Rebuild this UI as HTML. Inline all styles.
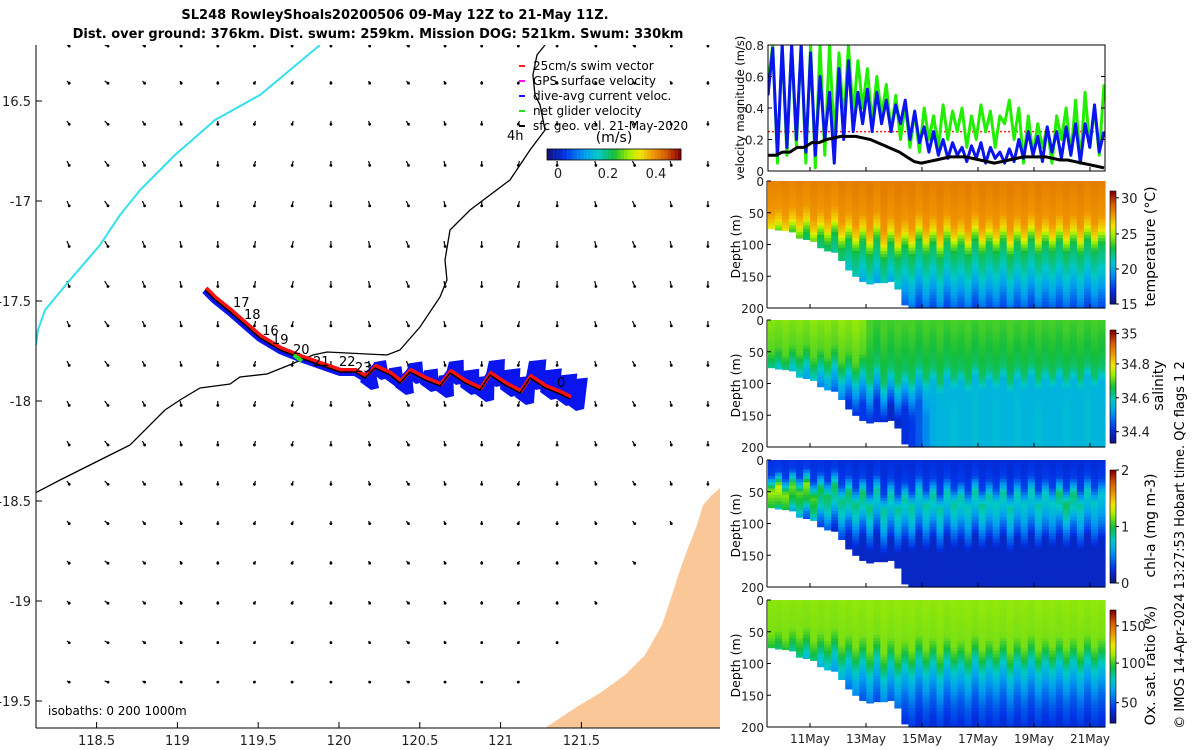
<!DOCTYPE html>
<html><head><meta charset="utf-8"><style>
html,body{margin:0;padding:0;background:#fff;}
svg{display:block;font-family:"DejaVu Sans","Liberation Sans",sans-serif;}
</style></head><body>
<svg id="fig" width="1200" height="750" viewBox="0 0 1200 750">
<defs><clipPath id="mclip"><rect x="36" y="45" width="684" height="683"/></clipPath>
<clipPath id="vclip"><rect x="768" y="45" width="337" height="126"/></clipPath></defs>
<g id="map"></g>
<g id="right"></g>
</svg>
<script>
// ---------------- DATA ----------------
const mapLonTicks=[118.5,119,119.5,120,120.5,121,121.5];
const mapLatTicks=[-16.5,-17,-17.5,-18,-18.5,-19,-19.5];
const dateTickLabels=["11May","13May","15May","17May","19May","21May"];
const dateTickDays=[1.5,3.5,5.5,7.5,9.5,11.5];
const velTicks=[0,0.2,0.4,0.6,0.8];
const depthTicks=[0,50,100,150,200];
const blueVel=[0.48,0.78,0.1,0.8,0.15,0.8,0.2,0.8,0.12,0.75,0.1,0.6,0.2,0.5,0.05,0.65,0.2,0.7,0.25,0.5,0.3,0.52,0.25,0.5,0.3,0.45,0.25,0.42,0.3,0.45,0.2,0.38,0.18,0.28,0.12,0.25,0.1,0.2,0.08,0.18,0.1,0.15,0.06,0.16,0.08,0.18,0.05,0.15,0.08,0.12,0.05,0.14,0.06,0.2,0.08,0.25,0.1,0.22,0.06,0.28,0.12,0.25,0.08,0.28,0.1,0.3,0.05,0.3,0.15,0.42,0.12,0.25];
const greenVel=[0.55,0.8,0.05,0.8,0.1,0.8,0.15,0.8,0.05,0.8,0.02,0.8,0.1,0.8,0.2,0.75,0.3,0.8,0.35,0.7,0.4,0.65,0.3,0.6,0.35,0.55,0.25,0.48,0.2,0.42,0.15,0.38,0.12,0.4,0.2,0.35,0.15,0.42,0.2,0.38,0.25,0.4,0.15,0.35,0.2,0.42,0.25,0.38,0.15,0.35,0.3,0.45,0.2,0.4,0.05,0.35,0.1,0.3,0.15,0.28,0.05,0.35,0.2,0.4,0.1,0.45,0.05,0.5,0.15,0.4,0.1,0.55];
const geoVel=[0.1,0.1,0.12,0.12,0.15,0.15,0.18,0.18,0.2,0.21,0.22,0.22,0.22,0.21,0.2,0.18,0.16,0.14,0.12,0.09,0.06,0.05,0.06,0.07,0.08,0.09,0.09,0.09,0.08,0.07,0.06,0.05,0.06,0.07,0.08,0.09,0.09,0.09,0.09,0.08,0.07,0.07,0.06,0.05,0.04,0.03,0.02];
const swimRef=0.25;
const bottomDepth=[75,77,78,80,90,92,95,105,110,112,125,140,150,158,162,160,160,158,170,195,200,200,200,200,200,200,200,200,200,200,200,200,200,200,200,200,200,200,200,200,200,200,200,200,200,200,200,200];
const mixedLayer=[70,62,75,60,72,58,80,65,78,60,85,70,90,72,95,68,100,75,98,80,95,70,92,75,98,72,90,78,95,70,92,76,90,72,96,74,90,70,92,75,88,72,90,74,92,70,88,75];
const deepSalinity=[0.3,0.3,0.28,0.25,0.2,0.18,0.15,0.1,0.1,0.12,0.1,0.08,0.08,0.1,0.1,0.08,0.06,0.05,0.06,0.08,0.1,0.15,0.22,0.28,0.3,0.3,0.32,0.3,0.3,0.32,0.3,0.3,0.32,0.3,0.3,0.32,0.3,0.3,0.32,0.3,0.3,0.3,0.32,0.3,0.3,0.32,0.3,0.3];
const chlMax=[0.62,0.66,0.6,0.58,0.55,0.6,0.55,0.5,0.48,0.48,0.45,0.48,0.45,0.47,0.45,0.42,0.43,0.42,0.43,0.42,0.43,0.4,0.42,0.43,0.42,0.4,0.43,0.42,0.4,0.42,0.43,0.42,0.4,0.42,0.42,0.4,0.38,0.4,0.42,0.4,0.38,0.46,0.48,0.46,0.42,0.4,0.38,0.37];
const coastLon=[118.12,118.274,118.521,118.707,118.923,119.016,119.14,119.326,119.387,119.554,119.678,119.839,119.926,120.297,120.377,120.501,120.625,120.668,120.656,120.687,120.811,121.058,121.182,121.275,121.244,121.213,121.2,121.225,121.275];
const coastLat=[-18.46,-18.395,-18.295,-18.22,-18.045,-17.995,-17.935,-17.915,-17.88,-17.865,-17.825,-17.77,-17.755,-17.77,-17.745,-17.63,-17.48,-17.395,-17.295,-17.145,-17.045,-16.895,-16.745,-16.645,-16.52,-16.47,-16.37,-16.27,-16.22];
const bathyLon=[118.125,118.137,118.181,118.335,118.521,118.645,118.769,118.985,119.233,119.511,119.697,119.882];
const bathyLat=[-17.72,-17.645,-17.545,-17.395,-17.22,-17.07,-16.945,-16.77,-16.595,-16.47,-16.345,-16.22];
const trackLon=[119.171,119.233,119.326,119.418,119.511,119.635,119.759,119.882,120.006,120.099,120.161,120.223,120.316,120.377,120.439,120.532,120.625,120.687,120.78,120.873,120.934,121.027,121.12,121.182,121.275,121.368,121.43];
const trackLat=[-17.445,-17.495,-17.555,-17.62,-17.685,-17.745,-17.785,-17.82,-17.855,-17.855,-17.885,-17.835,-17.87,-17.91,-17.855,-17.895,-17.925,-17.86,-17.91,-17.945,-17.87,-17.92,-17.96,-17.885,-17.935,-17.965,-17.99];
const trackDayLabels=["17","18","16","19","20","21","22","23","0"];
const trackLabelLon=[119.344,119.412,119.524,119.585,119.715,119.839,120.0,120.099,121.349];
const trackLabelLat=[-17.53,-17.59,-17.67,-17.715,-17.765,-17.825,-17.825,-17.855,-17.93];
const quiverU=[0.1,0.15,0.1,0.05,0.0,-0.05,-0.05,0.0,0.05,0.1,0.05,0.0,-0.05,0.0,0.05,0.1,0.05,0.0];
const quiverV=[-0.05,-0.1,-0.15,-0.2,-0.22,-0.25,-0.25,-0.22,-0.2,-0.2,-0.18,-0.15,-0.12,-0.1,-0.1,-0.08,-0.05];

const NS="http://www.w3.org/2000/svg";
function el(tag,attrs,parent,text){const e=document.createElementNS(NS,tag);for(const k in attrs)e.setAttribute(k,attrs[k]);if(text!==undefined)e.textContent=text;parent.appendChild(e);return e;}
const cmStops=[0,0.12,0.28,0.38,0.5,0.62,0.7,0.8,0.9,1];
const cmR=[20,0,0,0,20,170,240,240,210,140];
const cmG=[20,50,160,200,190,240,230,150,90,0];
const cmB=[130,230,240,200,60,0,0,0,0,0];
function jet(v){v=Math.max(0,Math.min(1,v));return `rgb(${Math.round(interp(v,cmStops,cmR))},${Math.round(interp(v,cmStops,cmG))},${Math.round(interp(v,cmStops,cmB))})`;}
function interp(d,ks,vs){if(d<=ks[0])return vs[0];for(let i=1;i<ks.length;i++){if(d<=ks[i]){const t=(d-ks[i-1])/(ks[i]-ks[i-1]);return vs[i-1]+t*(vs[i]-vs[i-1]);}}return vs[vs.length-1];}

const map=document.getElementById('map');
const right=document.getElementById('right');
let t=el('text',{x:395,y:19,'text-anchor':'middle','font-size':13,'font-weight':'bold'},map,"SL248 RowleyShoals20200506 09-May 12Z to 21-May 11Z.");

t=el('text',{x:378,y:38,'text-anchor':'middle','font-size':13,'font-weight':'bold'},map,"Dist. over ground: 376km. Dist. swum: 259km. Mission DOG: 521km. Swum: 330km");


const mx=lon=>339+(lon-120)*161.6;
const my=lat=>401+(-18-lat)*200;
const mg=el('g',{'clip-path':'url(#mclip)'},map);
let land=el('polygon',{points:"545,728 575,708 600,693 625,675 645,655 662,625 672,595 680,570 688,548 697,525 703,505 712,495 720,488 720,728",fill:'#fac898'},mg);

const qg=el('g',{},mg);
for(let r=0;r<17;r++){for(let c=0;c<18;c++){
  const x=67+c*37.7, y=(r===0?45:81+(r-1)*40);
  if(y>728||x>715)continue;
  if(x>540 && y>480+(715-x)*1.2)continue;
  const u=quiverU[c], v=quiverV[r];
  const x2=x+u*22, y2=y-v*22;
  const a=el('line',{x1:x,y1:y,x2:x2,y2:y2,stroke:'#000','stroke-width':1.2},qg);
  
  el('circle',{cx:x2,cy:y2,r:1.4,fill:'#000'},qg);
}}
let bl=el('polyline',{points:bathyLon.map((l,i)=>mx(l)+','+my(bathyLat[i])).join(' '),fill:'none',stroke:'#33e0ee','stroke-width':2},mg);

let cl=el('polyline',{points:coastLon.map((l,i)=>mx(l)+','+my(coastLat[i])).join(' '),fill:'none',stroke:'#000','stroke-width':1.3},mg);

const tp=trackLon.map((l,i)=>[mx(l),my(trackLat[i])]);
const tg=el('g',{},mg);
for(let i=10;i<tp.length;i++){const [x,y]=tp[i];const s=5+(i-10)*0.9;
  const f=el('polygon',{points:`${x-5},${y+4} ${x-1},${y-s} ${x+8+s*0.5},${y-s-2} ${x+14},${y+10} ${x+6},${y+12}`,fill:'#0a14ee'},tg);
  }
el('polyline',{points:tp.map(p=>p.join(',')).join(' '),fill:'none',stroke:'#0a14ee','stroke-width':8,'stroke-linejoin':'round'},tg);
el('polyline',{points:tp.map(p=>(p[0]+1)+','+(p[1]-2)).join(' '),fill:'none',stroke:'#ff1010','stroke-width':4,'stroke-linejoin':'round'},tg);
el('polyline',{points:tp.map(p=>p.join(',')).join(' '),fill:'none',stroke:'#000','stroke-width':1.5},tg);
el('line',{x1:mx(119.72),y1:my(-17.77),x2:mx(119.77),y2:my(-17.8),stroke:'#20e020','stroke-width':4},tg);
trackDayLabels.forEach((s,i)=>{const tx=el('text',{x:mx(trackLabelLon[i]),y:my(trackLabelLat[i]),'font-size':13},tg,s);
  });
const ax=el('g',{},map);
el('line',{x1:36,y1:45,x2:36,y2:728,stroke:'#000'},ax);
el('line',{x1:36,y1:728,x2:720,y2:728,stroke:'#000'},ax);
mapLonTicks.forEach(l=>{const x=mx(l);el('line',{x1:x,y1:728,x2:x,y2:722,stroke:'#000'},ax);
  const tx=el('text',{x:x,y:745,'text-anchor':'middle','font-size':13,fill:'#222'},ax,String(l));
  });
mapLatTicks.forEach(l=>{const y=my(l);el('line',{x1:36,y1:y,x2:42,y2:y,stroke:'#000'},ax);
  const tx=el('text',{x:31,y:y+5,'text-anchor':'end','font-size':13,fill:'#222'},ax,l===-16.5?"16.5":String(l));
  });
t=el('text',{x:48,y:715,'font-size':12},map,"isobaths: 0   200  1000m");
const lg=el('g',{},map);
const legItems=[["25cm/s swim vector","#ff2020"],["GPS surface velocity","#ff00ff"],["dive-avg current veloc.","#1010ff"],["net glider velocity","#20e020"],["sfc geo. vel. 21-May-2020","#000"]];
legItems.forEach((it,i)=>{const y=62+i*15;el('line',{x1:519,y1:y+4,x2:525,y2:y+4,stroke:it[1],'stroke-width':2},lg);
  const tx=el('text',{x:533,y:y+8,'font-size':12},lg,it[0]);});
el('text',{x:507,y:140,'font-size':13},map,"4h");
el('text',{x:614,y:142,'text-anchor':'middle','font-size':14},map,"(m/s)");
const cbm=el('g',{},map);
for(let i=0;i<40;i++)el('rect',{x:547+i*3.35,y:149,width:3.5,height:11,fill:jet(i/39)},cbm);
el('rect',{x:547,y:149,width:134,height:11,fill:'none',stroke:'#000','stroke-width':0.8},cbm);
[["0",558],["0.2",608],["0.4",656]].forEach(a=>el('text',{x:a[1],y:178,'text-anchor':'middle','font-size':13,fill:'#222'},cbm,a[0]));

const X0=768, X1=1105, dayW=28;
const tx=d=>X0+d*dayW;
const vp=el('g',{},right);
const vy=v=>171-v/0.8*126;
const vg=el('g',{'clip-path':'url(#vclip)'},vp);
let ln=el('line',{x1:X0,y1:vy(swimRef),x2:X1,y2:vy(swimRef),stroke:'#ff2020','stroke-width':1.5,'stroke-dasharray':'2,2'},vg);

function series(arr,color,w,name){const p=arr.map((v,i)=>tx(i/(arr.length-1)*12)+','+vy(v)).join(' ');
  const s=el('polyline',{points:p,fill:'none',stroke:color,'stroke-width':w,'stroke-linejoin':'round'},vg);
  }
series(greenVel,'#22ee00',3,'net-glider-velocity-line');
series(blueVel,'#0a14ee',3,'dive-avg-current-line');
series(geoVel,'#000',3,'surface-geostrophic-line');
el('rect',{x:X0,y:45,width:X1-X0,height:126,fill:'none',stroke:'#000'},vp);
velTicks.forEach(v=>{const y=vy(v);el('line',{x1:X0,y1:y,x2:X0+4,y2:y,stroke:'#000'},vp);el('line',{x1:X1,y1:y,x2:X1-4,y2:y,stroke:'#000'},vp);
  const tt=el('text',{x:764,y:y+5,'text-anchor':'end','font-size':12,fill:'#222'},vp,String(v));});
dateTickDays.forEach(d=>el('line',{x1:tx(d),y1:171,x2:tx(d),y2:167,stroke:'#000'},vp));
t=el('text',{x:0,y:0,transform:'translate(744,108) rotate(-90)','text-anchor':'middle','font-size':11.5},vp,"velocity magnitude (m/s)");


function tempVal(d,m,c){return interp(d-m,[-80,-20,0,10,25,50,80,110,140],[0.84,0.8,0.72,0.6,0.48,0.42,0.32,0.2,0.1]);}
function salVal(d,m,c){const deep=deepSalinity[c];const top=c<14?0.6:0.54;return interp(d-m,[-80,-20,0,20,60],[top,top-0.05,0.46,0.33,deep+0.03]);}
function chlVal(d,m,c){const mx2=chlMax[c];return interp(d-m,[-80,-45,-20,5,25,50],[0.1,0.14,mx2,mx2*0.8,0.22,0.08]);}
function oxyVal(d,m,c){return interp(d-m,[-80,-15,5,25,50,80,120],[0.6,0.58,0.5,0.38,0.28,0.18,0.1]);}
const panels=[
 {top:181,name:'temperature',fn:tempVal,cbLabels:[["15",0.0],["20",0.31],["25",0.62],["30",0.94]],title:"temperature (°C)",tx:1155},
 {top:320,name:'salinity',fn:salVal,cbLabels:[["34.4",0.1],["34.6",0.4],["34.8",0.7],["35",0.97]],title:"salinity",tx:1163},
 {top:460,name:'chlorophyll',fn:chlVal,cbLabels:[["0",0],["1",0.5],["2",1]],title:"chl-a (mg m-3)",tx:1155},
 {top:600,name:'oxygen',fn:oxyVal,cbLabels:[["50",0.18],["100",0.53],["150",0.86]],title:"Ox. sat. ratio (%)",tx:1155}
];
const H=127;
panels.forEach((P,pi)=>{
  const g=el('g',{},right);
  const dy=d=>P.top+d/200*H;
  const colW=(X1-X0)/bottomDepth.length;
  for(let c=0;c<bottomDepth.length;c++){
    const bot=bottomDepth[c], m=mixedLayer[c];
    for(let d=0;d<bot;d+=5){
      const h=Math.min(5,bot-d);
      const r=el('rect',{x:X0+c*colW,y:dy(d),width:colW+0.6,height:h/200*H+0.6,fill:jet(P.fn(d+2.5,m,c))},g);
      
    }
  }
  el('line',{x1:X0-1,y1:P.top,x2:X0-1,y2:P.top+H,stroke:'#000'},g);
  el('line',{x1:X0-1,y1:P.top+H,x2:X1,y2:P.top+H,stroke:'#000'},g);
  depthTicks.forEach(d=>{const y=dy(d);el('line',{x1:X0-1,y1:y,x2:X0+3,y2:y,stroke:'#000'},g);
    const tt=el('text',{x:764,y:y+5,'text-anchor':'end','font-size':12,fill:'#222'},g,String(d));});
  dateTickDays.forEach(d=>el('line',{x1:tx(d),y1:P.top+H,x2:tx(d),y2:P.top+H-4,stroke:'#000'},g));
  t=el('text',{x:0,y:0,transform:`translate(740,${P.top+H/2+2}) rotate(-90)`,'text-anchor':'middle','font-size':12.5},g,"Depth (m)");
  
  const cb=el('g',{},g);
  const cbT=P.top+10,cbH=H-14;
  for(let i=0;i<50;i++)el('rect',{x:1110,y:cbT+cbH-(i+1)*cbH/50,width:6,height:cbH/50+0.5,fill:jet(i/49)},cb);
  el('rect',{x:1110,y:cbT,width:6,height:cbH,fill:'none',stroke:'#000','stroke-width':0.6},cb);
  P.cbLabels.forEach(a=>{const y=cbT+cbH-a[1]*cbH;el('line',{x1:1116,y1:y,x2:1119,y2:y,stroke:'#000'},cb);
    el('text',{x:1121,y:y+5,'font-size':13,fill:'#222'},cb,a[0]);});
  t=el('text',{x:0,y:0,transform:`translate(${P.tx},${P.top+H/2+2}) rotate(-90)`,'text-anchor':'middle','font-size':14},g,P.title);
  
});
dateTickLabels.forEach((s,i)=>{const tt=el('text',{x:tx(dateTickDays[i]),y:743,'text-anchor':'middle','font-size':12,fill:'#222'},right,s);
  });
t=el('text',{x:0,y:0,transform:'translate(1184,545) rotate(-90)','text-anchor':'middle','font-size':13},right,"© IMOS 14-Apr-2024 13:27:53 Hobart time. QC flags 1  2");

</script>
</body></html>
